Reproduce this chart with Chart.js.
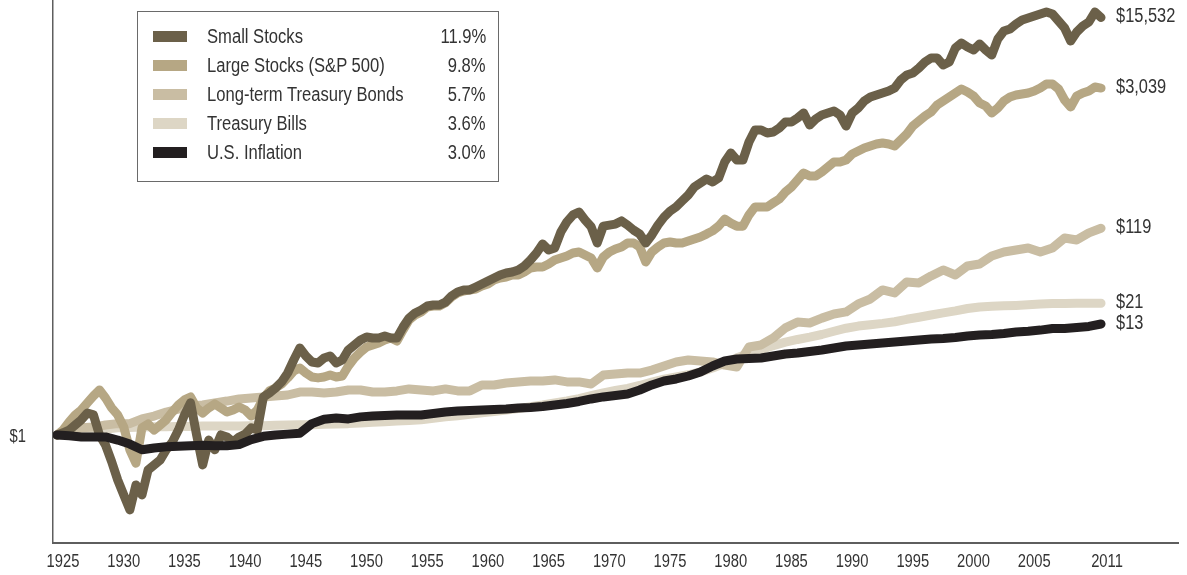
<!DOCTYPE html>
<html>
<head>
<meta charset="utf-8">
<script src="https://cdn.jsdelivr.net/npm/chart.js@4"></script>
<style>
  html, body { margin: 0; padding: 0; background: #fff; }
  #wrap { position: relative; width: 1187px; height: 575px; }
  #legend {
    position: absolute; left: 137px; top: 11px; width: 362px; height: 171px;
    border: 1px solid #6a6a6a; box-sizing: border-box; padding-top: 10px;
    font-family: 'Liberation Sans', Arial, sans-serif;
    font-size: 20px; color: #333;
  }
  .row { position: relative; height: 29px; line-height: 29px; }
  .sw { position: absolute; left: 15px; top: 9px; width: 34px; height: 11px; }
  .name { position: absolute; left: 69px; transform: scaleX(0.83); transform-origin: left center; white-space: nowrap; }
  .rate { position: absolute; right: 12px; transform: scaleX(0.83); transform-origin: right center; }
</style>
</head>
<body>
<div id="wrap">
  <canvas id="chart" width="1187" height="575"></canvas>
  <div id="legend"></div>
</div>
<script>
const FONT = "'Liberation Sans', Arial, sans-serif";
const NARROW = 0.82; // horizontal squeeze to imitate a condensed face

// series names, colours and annualised returns
const seriesNames = ['Small Stocks', 'Large Stocks (S&P 500)', 'Long-term Treasury Bonds', 'Treasury Bills', 'U.S. Inflation'];
const seriesRates = ['11.9%', '9.8%', '5.7%', '3.6%', '3.0%'];
const seriesColors = ['#6b6049', '#b6a784', '#c9bda3', '#ddd6c5', '#231f20'];

// x axis tick labels
const tickYears = [1925, 1930, 1935, 1940, 1945, 1950, 1955, 1960, 1965, 1970, 1975, 1980, 1985, 1990, 1995, 2000, 2005, 2011];

// time points: half years for stocks, whole years for the rest (end of 1925 = $1)
const halfYears = Array.from({ length: 173 }, (_, i) => 1925 + i / 2);
const years = Array.from({ length: 87 }, (_, i) => 1925 + i);

// growth of $1
const smallStocks = [
  1.00, 1.05, 1.12, 1.26, 1.42, 1.66, 1.59, 1.00, 0.79, 0.54,
  0.353, 0.25, 0.177, 0.315, 0.25, 0.445, 0.50, 0.56, 0.71, 0.85,
  1.12, 1.59, 2.10, 1.00, 0.50, 0.89, 0.71, 1.00, 0.955, 0.85,
  0.955, 1.02, 1.18, 1.12, 2.41, 2.64, 2.96, 3.41, 4.19, 5.66,
  7.47, 6.21, 5.41, 5.28, 5.93, 6.21, 5.28, 5.66, 7.14, 8.01,
  8.99, 9.64, 9.42, 9.42, 9.86, 9.42, 9.42, 12.1, 14.9, 16.8,
  18.0, 19.7, 20.2, 20.2, 21.6, 24.9, 27.3, 28.6, 28.6, 30.6,
  32.8, 35.2, 37.7, 40.4, 42.3, 43.3, 45.4, 49.8, 57.1, 67.2,
  82.7, 72.0, 75.4, 109, 138, 162, 173, 144, 123, 84.7,
  125, 128, 131, 141, 128, 114, 104, 84.7, 102, 128,
  154, 177, 195, 224, 257, 309, 339, 372, 347, 380,
  551, 678, 577, 577, 875, 1154, 1154, 1077, 1102, 1209,
  1389, 1389, 1523, 1710, 1295, 1488, 1633, 1710, 1791, 1633,
  1266, 1710, 1920, 2257, 2476, 2593, 2715, 2843, 3048, 3667,
  4117, 4311, 4838, 5559, 6097, 6097, 5186, 5559, 7683, 8625,
  7863, 7337, 8428, 7337, 6536, 9461, 11380, 11920, 13380, 14680,
  15370, 16100, 16860, 17660, 16860, 14340, 12200, 9032, 11120, 12780,
  14020, 17660, 15532
];

const largeStocks = [
  1.00, 1.12, 1.35, 1.59, 1.78, 2.10, 2.46, 2.83, 2.35, 1.87,
  1.59, 1.20, 0.71, 0.52, 1.18, 1.29, 1.12, 1.26, 1.42, 1.70,
  2.00, 2.25, 2.41, 1.87, 1.66, 1.87, 2.05, 1.87, 1.70, 1.78,
  1.91, 1.78, 1.55, 1.78, 2.35, 2.77, 2.96, 3.25, 3.74, 4.39,
  4.71, 4.19, 3.82, 3.74, 3.82, 4.00, 3.82, 3.91, 4.93, 5.93,
  6.81, 7.65, 8.01, 8.39, 8.99, 9.42, 8.79, 11.3, 14.3, 16.0,
  17.2, 19.3, 19.7, 19.7, 21.2, 24.3, 26.7, 27.9, 28.6, 29.2,
  31.3, 32.8, 36.0, 37.7, 38.6, 40.4, 40.4, 43.3, 47.5, 48.6,
  48.6, 52.1, 57.1, 59.8, 62.7, 67.2, 68.8, 64.2, 59.8, 47.5,
  61.2, 68.8, 73.7, 77.2, 84.7, 84.7, 77.2, 54.6, 68.8, 77.2,
  84.7, 86.7, 84.7, 84.7, 88.7, 92.9, 97.3, 104, 112, 125,
  147, 134, 125, 125, 162, 195, 195, 195, 214, 234,
  275, 309, 363, 427, 398, 398, 437, 491, 551, 551,
  577, 663, 710, 761, 797, 835, 855, 835, 797, 916,
  1052, 1266, 1421, 1595, 1750, 2057, 2257, 2476, 2715, 2978,
  2779, 2533, 2154, 2010, 1710, 1920, 2257, 2476, 2593, 2653,
  2715, 2843, 3048, 3343, 3343, 2978, 2309, 1965, 2533, 2715,
  2843, 3119, 3039
];

const treasuryBonds = [
  1.00, 1.07, 1.18, 1.20, 1.26, 1.30, 1.30, 1.45, 1.55, 1.70,
  1.82, 1.96, 2.00, 2.10, 2.19, 2.30, 2.35, 2.41, 2.46, 2.52,
  2.70, 2.70, 2.64, 2.70, 2.83, 2.83, 2.70, 2.70, 2.77, 2.90,
  2.83, 2.77, 2.90, 2.77, 2.77, 3.18, 3.18, 3.33, 3.41, 3.48,
  3.48, 3.57, 3.41, 3.41, 3.25, 4.00, 4.10, 4.19, 4.19, 4.49,
  4.93, 5.41, 5.66, 5.53, 5.41, 5.04, 4.82, 7.65, 8.01, 9.42,
  11.9, 13.6, 13.3, 14.9, 16.4, 17.2, 20.7, 23.2, 28.6, 26.7,
  34.4, 33.6, 39.5, 45.4, 40.4, 49.8, 52.1, 62.7, 68.8, 72.0,
  75.4, 68.8, 75.4, 95.1, 90.8, 107, 119
];

const treasuryBills = [
  1.00, 1.03, 1.07, 1.10, 1.15, 1.18, 1.19, 1.20, 1.21, 1.21,
  1.22, 1.22, 1.23, 1.23, 1.23, 1.23, 1.24, 1.24, 1.25, 1.26,
  1.27, 1.27, 1.28, 1.29, 1.30, 1.32, 1.34, 1.36, 1.38, 1.40,
  1.42, 1.47, 1.52, 1.56, 1.61, 1.67, 1.72, 1.78, 1.84, 1.92,
  2.00, 2.10, 2.20, 2.32, 2.48, 2.65, 2.80, 2.94, 3.14, 3.40,
  3.63, 3.82, 4.02, 4.30, 4.70, 5.25, 5.95, 6.60, 7.20, 7.90,
  8.55, 9.10, 9.60, 10.2, 11.0, 11.8, 12.4, 12.8, 13.2, 13.7,
  14.5, 15.2, 16.0, 16.8, 17.6, 18.6, 19.3, 19.6, 19.8, 20.0,
  20.3, 20.7, 20.85, 20.95, 21.0, 21.0, 21
];

const inflation = [
  1.00, 0.98, 0.955, 0.955, 0.955, 0.89, 0.81, 0.71, 0.74, 0.76,
  0.77, 0.78, 0.79, 0.78, 0.78, 0.80, 0.90, 0.97, 1.00, 1.02,
  1.04, 1.30, 1.44, 1.48, 1.45, 1.52, 1.55, 1.57, 1.59, 1.59,
  1.59, 1.64, 1.70, 1.74, 1.76, 1.78, 1.80, 1.82, 1.87, 1.89,
  1.93, 2.00, 2.07, 2.17, 2.30, 2.41, 2.49, 2.58, 2.83, 3.18,
  3.48, 3.65, 3.91, 4.29, 4.93, 5.53, 5.80, 5.86, 5.93, 6.21,
  6.51, 6.66, 6.89, 7.14, 7.47, 7.83, 8.01, 8.19, 8.39, 8.58,
  8.79, 8.99, 9.20, 9.31, 9.53, 9.86, 10.1, 10.2, 10.45, 10.8,
  11.0, 11.3, 11.7, 11.7, 12.0, 12.3, 13
];

const seriesX = [halfYears, halfYears, years, years, years];
const seriesValues = [smallStocks, largeStocks, treasuryBonds, treasuryBills, inflation];
// lower order is drawn on top
const drawOrder = [1, 2, 3, 4, 0];

// legend (HTML, real text)
const legendEl = document.getElementById('legend');
seriesNames.forEach((name, i) => {
  const row = document.createElement('div');
  row.className = 'row';
  row.innerHTML = '<span class="sw"></span><span class="name"></span><span class="rate"></span>';
  row.querySelector('.sw').style.background = seriesColors[i];
  row.querySelector('.name').textContent = name;
  row.querySelector('.rate').textContent = seriesRates[i];
  legendEl.appendChild(row);
});

function narrowText(ctx, text, x, y, align) {
  ctx.save();
  ctx.translate(x, y);
  ctx.scale(NARROW, 1);
  ctx.textAlign = align;
  ctx.fillText(text, 0, 0);
  ctx.restore();
}

// axis labels and the "$15,532" style end labels
const textLayer = {
  id: 'textLayer',
  afterDraw(chart) {
    const ctx = chart.ctx;
    const xs = chart.scales.x;
    const ys = chart.scales.y;
    ctx.save();
    ctx.fillStyle = '#333';
    ctx.textBaseline = 'middle';

    ctx.font = '18px ' + FONT;
    tickYears.forEach(yr => {
      narrowText(ctx, String(yr), xs.getPixelForValue(yr) + 6, chart.chartArea.bottom + 19, 'center');
    });
    narrowText(ctx, '$1', 26, ys.getPixelForValue(1) + 2, 'right');

    ctx.font = '20px ' + FONT;
    chart.data.datasets.forEach((ds, i) => {
      const meta = chart.getDatasetMeta(i);
      const pt = meta.data[meta.data.length - 1];
      const v = ds.data[ds.data.length - 1].y;
      narrowText(ctx, '$' + v.toLocaleString('en-US'), pt.x + 15, pt.y - 1, 'left');
    });
    ctx.restore();
  }
};

const ctx = document.getElementById('chart').getContext('2d');
new Chart(ctx, {
  type: 'line',
  data: {
    datasets: seriesNames.map((name, i) => ({
      label: name,
      data: seriesX[i].map((x, j) => ({ x: x, y: seriesValues[i][j] })),
      borderColor: seriesColors[i],
      borderWidth: 9,
      borderCapStyle: 'round',
      borderJoinStyle: 'round',
      pointRadius: 0,
      tension: 0,
      fill: false,
      order: drawOrder[i]
    }))
  },
  options: {
    responsive: false,
    devicePixelRatio: 1,
    animation: false,
    layout: { padding: { left: 0, right: 9, top: 0, bottom: 0 } },
    plugins: { legend: { display: false }, tooltip: { enabled: false } },
    scales: {
      x: {
        type: 'linear',
        bounds: 'data',
        min: 1924.67,
        max: 2017.34,
        grid: { display: false },
        border: { display: true, color: '#5e5e5e', width: 2 },
        ticks: { display: false },
        afterBuildTicks: (axis) => { axis.ticks = tickYears.map(v => ({ value: v })); },
        afterFit: (axis) => { axis.height = 32; }
      },
      y: {
        type: 'logarithmic',
        bounds: 'data',
        min: 0.0823,
        max: 23300,
        grid: { display: false },
        border: { display: true, color: '#5e5e5e', width: 1.5 },
        ticks: { display: false },
        afterBuildTicks: (axis) => { axis.ticks = [{ value: 1 }]; },
        afterFit: (axis) => { axis.width = 53; }
      }
    }
  },
  plugins: [textLayer]
});
</script>
</body>
</html>
